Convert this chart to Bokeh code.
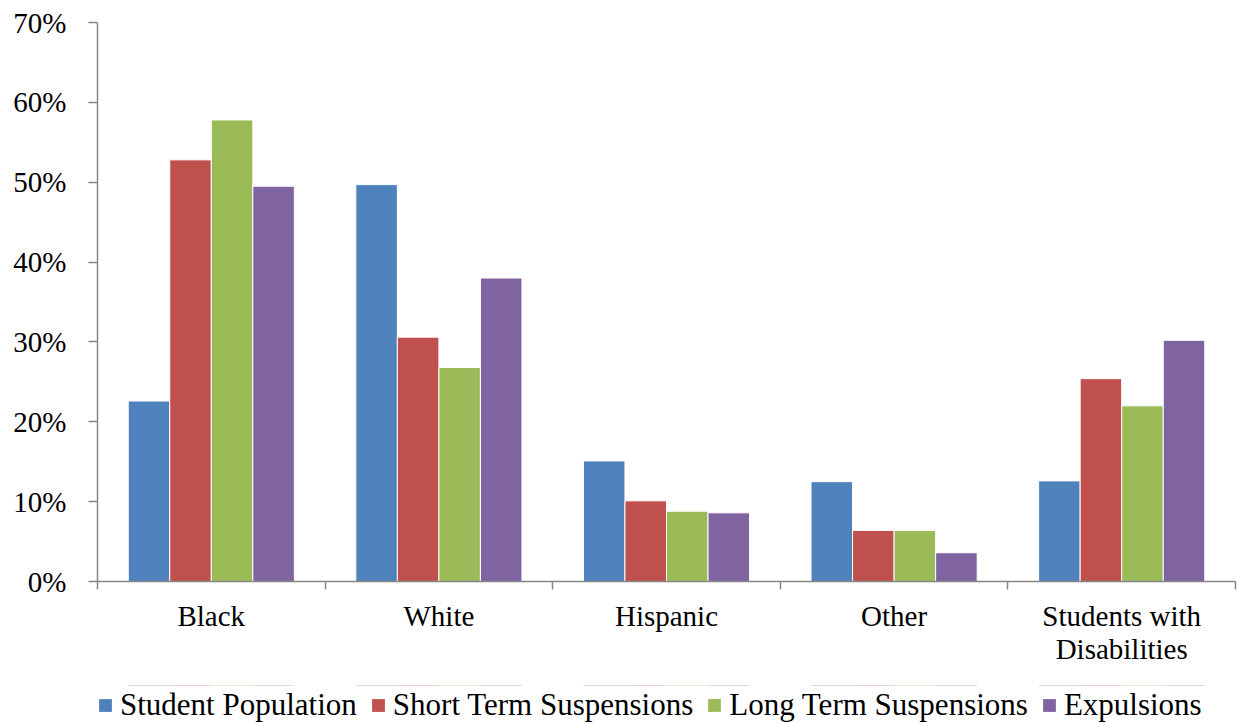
from bokeh.plotting import figure
from bokeh.layouts import column
from bokeh.models import (Range1d, LinearAxis, FixedTicker,
                          PrintfTickFormatter, Legend, LegendItem, ColumnDataSource)
from bokeh.transform import dodge
from bokeh.embed import file_html
from bokeh.resources import INLINE

categories = ["Black", "White", "Hispanic", "Other", "Students with\nDisabilities"]
series_names = ["Student Population", "Short Term Suspensions", "Long Term Suspensions", "Expulsions"]
student_population = [22.6, 49.7, 15.1, 12.5, 12.6]
short_term = [52.8, 30.6, 10.1, 6.4, 25.4]
long_term = [57.8, 26.8, 8.8, 6.4, 22.0]
expulsions = [49.5, 38.0, 8.6, 3.6, 30.2]
y_ticks = [0, 10, 20, 30, 40, 50, 60, 70]

colors = ["#4F81BD", "#C0504D", "#9BBB59", "#8064A2"]
FONT = "Liberation Serif"

centers = [i + 0.5 for i in range(len(categories))]
edges = list(range(len(categories) + 1))

src = ColumnDataSource(dict(xc=centers, s0=student_population, s1=short_term,
                            s2=long_term, s3=expulsions))

p = figure(x_range=Range1d(0, len(categories)),
           y_range=Range1d(0, 70), frame_width=1138, frame_height=559,
           output_backend="svg", toolbar_location=None,
           x_axis_location=None, y_axis_location=None,
           min_border_left=97, min_border_top=22, min_border_right=2, min_border_bottom=104)
p.outline_line_color = None
p.xgrid.visible = False
p.ygrid.visible = False
p.background_fill_color = "white"
p.border_fill_color = "white"

bw = 0.1825
offsets = [-1.5 * bw, -0.5 * bw, 0.5 * bw, 1.5 * bw]
keys = ["s0", "s1", "s2", "s3"]
for i, key in enumerate(keys):
    p.vbar(x=dodge("xc", offsets[i]), top=key, width=bw, bottom=0,
           source=src, fill_color=colors[i], line_color="white", line_width=1)

AX = "#868686"
yaxis = LinearAxis(ticker=FixedTicker(ticks=y_ticks), formatter=PrintfTickFormatter(format="%d%%"))
yaxis.axis_line_color = AX
yaxis.axis_line_width = 1.5
yaxis.major_tick_line_color = AX
yaxis.major_tick_line_width = 1.5
yaxis.major_tick_out = 9
yaxis.major_tick_in = 0
yaxis.minor_tick_line_color = None
yaxis.major_label_text_font = FONT
yaxis.major_label_text_font_size = "29px"
yaxis.major_label_text_color = "black"
yaxis.major_label_standoff = 22
p.add_layout(yaxis, "left")

xaxis = LinearAxis(ticker=FixedTicker(ticks=centers, minor_ticks=edges),
                   major_label_overrides={c: n for c, n in zip(centers, categories)})
xaxis.axis_line_color = AX
xaxis.axis_line_width = 1.5
xaxis.major_tick_line_color = None
xaxis.major_tick_out = 8
xaxis.major_tick_in = 0
xaxis.minor_tick_line_color = AX
xaxis.minor_tick_line_width = 1.5
xaxis.minor_tick_out = 8
xaxis.minor_tick_in = 0
xaxis.major_label_standoff = 10
xaxis.major_label_text_font = FONT
xaxis.major_label_text_font_size = "29px"
xaxis.major_label_text_color = "black"
xaxis.major_label_text_line_height = 1.05
p.add_layout(xaxis, "below")

# legend strip below the chart; its bars use the same data but lie far outside its view
lg = figure(x_range=Range1d(0, len(categories)), y_range=Range1d(-200, -100), width=1237, height=38,
            output_backend="svg", toolbar_location=None,
            x_axis_location=None, y_axis_location=None,
            min_border_left=0, min_border_right=0, min_border_top=0, min_border_bottom=0)
lg.outline_line_color = None
lg.xgrid.visible = False
lg.ygrid.visible = False
lg.border_fill_color = "white"
lg.background_fill_color = "white"
legend_renderers = [lg.vbar(x=dodge("xc", offsets[i]), top=key, width=bw, bottom=0, source=src,
                            fill_color=colors[i], line_color=None)
                    for i, key in enumerate(keys)]

legend = Legend(items=[LegendItem(label=n, renderers=[r]) for n, r in zip(series_names, legend_renderers)],
                orientation="horizontal", location=(0, 0))
legend.label_text_font = FONT
legend.label_text_font_size = "31px"
legend.label_text_color = "black"
legend.glyph_width = 16
legend.glyph_height = 16
legend.label_standoff = 7
legend.spacing = 13
legend.padding = 0
legend.margin = 0
legend.border_line_color = None
legend.background_fill_alpha = 0
lg.add_layout(legend, "center")

open("out.html", "w").write(file_html(column(p, lg, spacing=0), INLINE))
